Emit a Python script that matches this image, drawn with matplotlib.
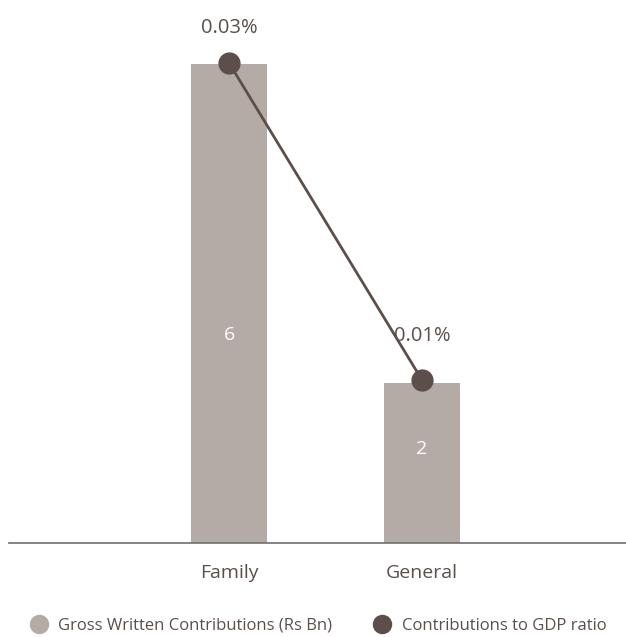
import numpy as np
import matplotlib.pyplot as plt
from matplotlib.lines import Line2D

# data
categories = ["Family", "General"]
gwc = [6, 2]                 # Gross Written Contributions (Rs Bn)
gdp_ratio = [0.03, 0.01]     # Contributions to GDP ratio (%)
gdp_labels = ["0.03%", "0.01%"]

bar_col = "#b5aba6"
dark = "#5c4f4b"
txt = "#5a4f4b"

plt.rcParams['font.family'] = ['Open Sans', 'DejaVu Sans']

fig = plt.figure(figsize=(6.26, 6.37), dpi=100)
ax = fig.add_axes([9/626, (637-543)/637, 617/626, 543/637])
x = np.arange(len(categories))

ax.bar(x, gwc, width=0.394, color=bar_col, zorder=1)
for xi, v, f in zip(x, gwc, [0.435, 0.59]):
    ax.text(xi, v*f, str(v), ha="center", va="center", color="white", fontsize=14)

ax.set_xlim(-1.14, 2.057)
ax.set_ylim(0, 543/79.8)
ax.set_xticks(x)
ax.set_xticklabels(categories, fontsize=14, color=txt)
ax.tick_params(axis="x", length=0, pad=15)
ax.set_yticks([])
for s in ["top", "right", "left"]:
    ax.spines[s].set_visible(False)
ax.spines["bottom"].set_color("#6e6e6e")
ax.spines["bottom"].set_linewidth(1.2)
ax.patch.set_alpha(0)

ax2 = ax.twinx()
ax2.set_ylim(-0.000284, 0.03397)
ax2.plot(x, gdp_ratio, color=dark, lw=2, marker="o", markersize=15, zorder=3)
for xi, v, lab, dy in zip(x, gdp_ratio, gdp_labels, [35, 44]):
    ax2.annotate(lab, (xi, v), xytext=(0, dy), textcoords="offset pixels",
                 ha="center", va="center", fontsize=14.5, color=txt)
ax2.axis("off")

handles = [Line2D([], [], ls="", marker="o", color=bar_col, markersize=13),
           Line2D([], [], ls="", marker="o", color=dark, markersize=13)]
fig.legend(handles, ["Gross Written Contributions (Rs Bn)", "Contributions to GDP ratio"],
           loc="center", bbox_to_anchor=(0.509, 1 - 626/637), ncol=2, frameon=False,
           fontsize=12, labelcolor=txt, handletextpad=0.65, columnspacing=2.5,
           handlelength=1.0)

fig.savefig("out.png", dpi=100)
